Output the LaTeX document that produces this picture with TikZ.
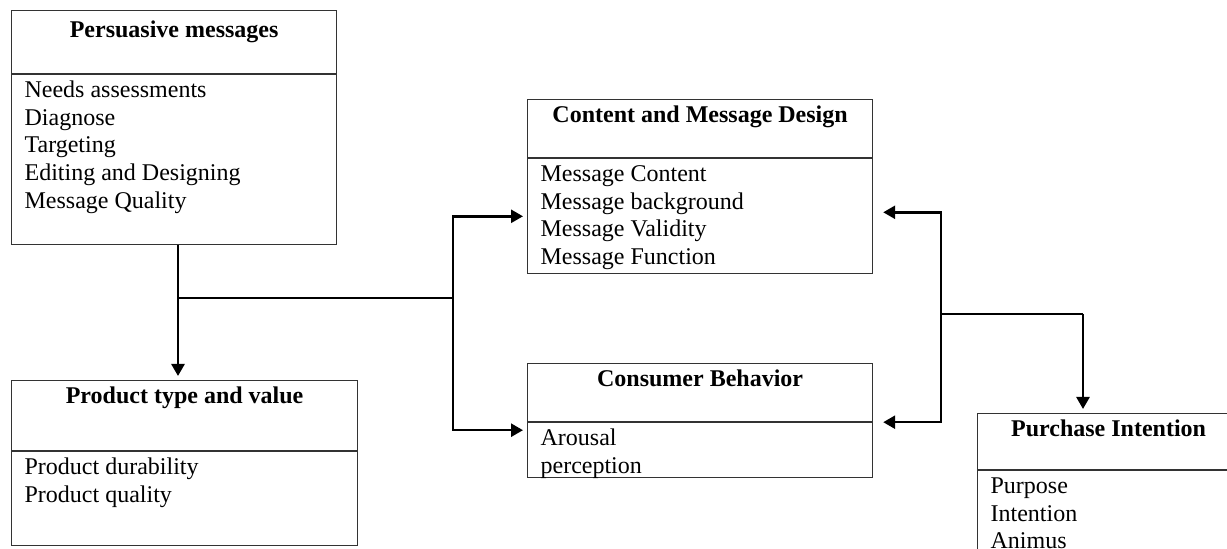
\documentclass[tikz,border=0pt]{standalone}
\usepackage{fontspec}
\setmainfont{Liberation Serif}
\usetikzlibrary{arrows.meta,positioning}

\begin{document}
\begin{tikzpicture}[x=0.5pt, y=-0.5pt, every node/.style={font=\fontsize{12}{13.8}\selectfont},
    head/.style={draw=black!80, line width=0.6pt, font=\fontsize{12}{13.8}\selectfont\bfseries, anchor=north west, inner xsep=0pt, inner ysep=0pt, text height=11.5pt, text depth=#1},
    body/.style={draw=black!80, line width=0.6pt, align=flush left, inner xsep=6.5pt, inner ysep=0pt, text height=11.5pt, text depth=#1},
    link/.style={line width=1.3pt},
    arrow/.style={-{Triangle[length=6pt,width=6.5pt]}, line width=1.3pt, shorten >=2pt}]
  \useasboundingbox (0,0) rectangle (1227,549);

  \node[head=18pt, text height=13.5pt, minimum width=162.5pt] (pmhead) at (11,10) {Persuasive messages};
  \node[body=73.5pt, text width=149.5pt, below=0pt of pmhead] (pmbody) {Needs assessments\\ Diagnose\\ Targeting\\ Editing and Designing\\ Message Quality};

  \node[head=23.5pt, minimum width=173pt] (prodhead) at (11,380) {Product type and value};
  \node[body=35.5pt, text width=160pt, below=0pt of prodhead] (prodbody) {Product durability\\ Product quality};

  \node[head=17.5pt, minimum width=172.5pt] (cmdhead) at (527,99) {Content and Message Design};
  \node[body=46pt, text width=159.5pt, below=0pt of cmdhead] (cmdbody) {Message Content\\ Message background\\ Message Validity\\ Message Function};

  \node[head=17.5pt, minimum width=172.5pt] (cbhead) at (527,363) {Consumer Behavior};
  \node[body=16pt, text width=159.5pt, below=0pt of cbhead] (cbbody) {Arousal\\ perception};

  \node[head=16.5pt, minimum width=131pt] (pihead) at (977,413) {Purchase Intention};
  \node[body=45pt, text width=118pt, below=0pt of pihead] (pibody) {Purpose\\ Intention\\ Animus};

  \coordinate (lsplit) at (178,298);
  \coordinate (mfork) at (453,298);
  \coordinate (rfork) at (941,314);
  \coordinate (pidrop) at (1083,314);

  \draw[link] (lsplit |- pmbody.south) -- (lsplit) -- (mfork);
  \draw[arrow] (lsplit) -- (lsplit |- prodhead.north);
  \draw[arrow] (mfork) |- (cmdbody.west);
  \draw[arrow] (mfork) |- ([yshift=-4pt]cbbody.north west);
  \draw[arrow, shorten >=5pt] (rfork) |- ([yshift=2pt]cmdbody.east);
  \draw[arrow, shorten >=5pt] (rfork) |- (cbhead.south east);
  \draw[link] (rfork) -- (pidrop);
  \draw[arrow] (pidrop) -- (pidrop |- pihead.north);
\end{tikzpicture}
\end{document}
